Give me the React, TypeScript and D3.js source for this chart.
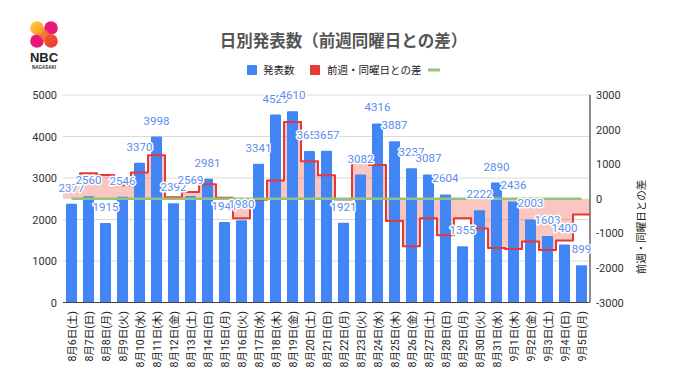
import React from 'react';
import * as d3 from 'd3';

const dates = [
  '8月6日(土)', '8月7日(日)', '8月8日(月)', '8月9日(火)', '8月10日(水)', '8月11日(木)', '8月12日(金)',
  '8月13日(土)', '8月14日(日)', '8月15日(月)', '8月16日(火)', '8月17日(水)', '8月18日(木)', '8月19日(金)',
  '8月20日(土)', '8月21日(日)', '8月22日(月)', '8月23日(火)', '8月24日(水)', '8月25日(木)', '8月26日(金)',
  '8月27日(土)', '8月28日(日)', '8月29日(月)', '8月30日(火)', '8月31日(水)', '9月1日(木)', '9月2日(金)',
  '9月3日(土)', '9月4日(日)', '9月5日(月)',
];
const counts = [
  2377, 2560, 1915, 2546, 3370, 3998, 2392,
  2569, 2981, 1941, 1980, 3341, 4529, 4610,
  3653, 3657, 1921, 3082, 4316, 3887, 3237,
  3087, 2604, 1355, 2222, 2890, 2436, 2003,
  1603, 1400, 899,
];
const diffs = [
  400, 740, 690, 390, 760, 1260, 45,
  192, 421, 26, -566, -29, 531, 2218,
  1084, 676, -20, 1102, 975, -642, -1373,
  -566, -1053, -566, -860, -1426, -1451, -1234,
  -1484, -1204, -456,
];
const zeroLine = dates.map(() => 0);
const leftTicks = [0, 1000, 2000, 3000, 4000, 5000];
const rightTicks = [-3000, -2000, -1000, 0, 1000, 2000, 3000];

const FONT = "Roboto, 'Noto Sans CJK JP', sans-serif";
const BLUE = '#4285F4';
const RED = '#E53935';
const GREEN = '#93C47D';

export default function App() {
  const W = 680, H = 382;
  const left = 63, right = 590, top = 95, bottom = 302.5;
  const x = d3.scaleBand<string>().domain(dates).range([left, right]).paddingInner(0.35).paddingOuter(0.175);
  const step = x.step();
  const cx = (i: number) => (x(dates[i]) as number) + x.bandwidth() / 2;
  const yL = d3.scaleLinear().domain([0, 5000]).range([bottom, top]);
  const yR = d3.scaleLinear().domain([-3000, 3000]).range([bottom, top]);

  const stepPts: [number, number][] = diffs.flatMap((d, i) => [
    [cx(i) - step / 2, yR(d)] as [number, number],
    [cx(i) + step / 2, yR(d)] as [number, number],
  ]);
  const stepLine = d3.line<[number, number]>().x(p => p[0]).y(p => p[1]);
  const stepArea = d3.area<[number, number]>().x(p => p[0]).y0(yR(0)).y1(p => p[1]);
  const greenLine = d3.line<number>().x((_, i) => cx(i)).y(d => yR(d));

  return (
    <svg width={W} height={H} style={{ position: 'fixed', left: 0, top: 0, background: '#fff' }} fontFamily={FONT}>
      <defs>
        <linearGradient id="lg1" x1="0" y1="0" x2="1" y2="1">
          <stop offset="0" stopColor="#FFD23F" />
          <stop offset="1" stopColor="#F7931E" />
        </linearGradient>
        <linearGradient id="lg2" x1="0" y1="0" x2="1" y2="1">
          <stop offset="0" stopColor="#F15A24" />
          <stop offset="1" stopColor="#E8383D" />
        </linearGradient>
      </defs>
      {/* Logo */}
      <g>
        <circle cx={51} cy={28} r={6.8} fill="#E6197A" />
        <circle cx={37} cy={41} r={6.8} fill="#E6197A" />
        <path d="M31,28 L44,41 L57,41 L44,28 Z" fill="#F26B2A" opacity={0.9} />
        <circle cx={37} cy={28} r={6.8} fill="url(#lg1)" />
        <circle cx={51} cy={41} r={6.8} fill="url(#lg2)" />
        <text x={44} y={62} textAnchor="middle" fontSize={13} fontWeight={700} fill="#222" fontFamily="'Liberation Sans', Arial, sans-serif">NBC</text>
        <text x={44} y={69} textAnchor="middle" fontSize={4.5} fontWeight={700} fill="#333" fontFamily="'Liberation Sans', Arial, sans-serif">NAGASAKI</text>
      </g>
      {/* Title */}
      <text x={343.5} y={47} textAnchor="middle" fontSize={16.5} fontWeight={700} fill="#555">日別発表数（前週同曜日との差）</text>
      {/* Legend */}
      <g fontSize={10.5} fill="#222">
        <rect x={247} y={65} width={10} height={10} fill={BLUE} rx={1} />
        <text x={263} y={74}>発表数</text>
        <rect x={310} y={65} width={10} height={10} fill={RED} rx={1} />
        <text x={327} y={74}>前週・同曜日との差</text>
        <line x1={428} x2={440} y1={70} y2={70} stroke={GREEN} strokeWidth={3} />
      </g>
      {/* Gridlines */}
      {leftTicks.map(t => (
        <line key={t} x1={left} x2={right} y1={yL(t)} y2={yL(t)} stroke="#dadada" strokeWidth={1} />
      ))}
      {/* Left axis labels */}
      {leftTicks.map(t => (
        <text key={t} x={57} y={yL(t) + 4} textAnchor="end" fontSize={11} fill="#333">{t}</text>
      ))}
      {/* Right axis labels */}
      {rightTicks.map(t => (
        <text key={t} x={596} y={yR(t) + 4} textAnchor="start" fontSize={11} fill="#333">{t}</text>
      ))}
      <text transform={`translate(645,227) rotate(-90)`} textAnchor="middle" fontSize={10.5} fill="#222">前週・同曜日との差</text>
      {/* Step area */}
      <path d={stepArea(stepPts) as string} fill="#EA4335" opacity={0.3} />
      {/* Bars */}
      {counts.map((v, i) => (
        <rect key={i} x={x(dates[i])} y={yL(v)} width={x.bandwidth()} height={yL(0) - yL(v)} fill={BLUE} rx={1} />
      ))}
      {/* Baseline */}
      <line x1={left} x2={right} y1={bottom} y2={bottom} stroke="#444" strokeWidth={1} />
      <line x1={right} x2={right} y1={top} y2={bottom} stroke="#666" strokeWidth={1.5} />
      {/* Step line */}
      <path d={stepLine(stepPts) as string} fill="none" stroke={RED} strokeWidth={2} strokeLinejoin="round" />
      {/* Green zero line */}
      <path d={greenLine(zeroLine) as string} fill="none" stroke={GREEN} strokeWidth={2.5} />
      {/* Bar labels */}
      {counts.map((v, i) => (
        <text key={i} x={cx(i)} y={yL(v) - 12} textAnchor="middle" fontSize={11.5} fill="#5A8DEE"
          stroke="#fff" strokeWidth={3} strokeLinejoin="round" style={{ paintOrder: 'stroke' }}>{v}</text>
      ))}
      {/* X labels */}
      {dates.map((d, i) => (
        <text key={d} transform={`translate(${cx(i) + 4},${311}) rotate(-90)`} textAnchor="end" fontSize={10.5} fill="#222">{d}</text>
      ))}
    </svg>
  );
}
